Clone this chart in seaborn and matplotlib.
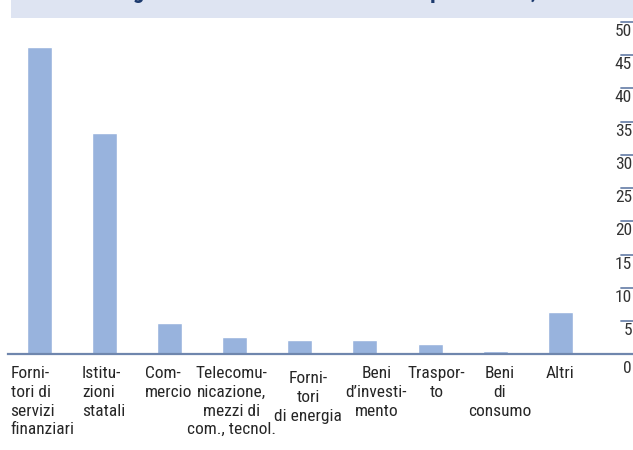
import matplotlib
matplotlib.use("Agg")
import matplotlib.pyplot as plt
from matplotlib import font_manager as fm
from matplotlib.patches import Rectangle
import seaborn as sns

# data
categories = ["Fornitori di servizi finanziari", "Istituzioni statali", "Commercio",
              "Telecomunicazione, mezzi di com., tecnol.", "Fornitori di energia",
              "Beni d'investimento", "Trasporto", "Beni di consumo", "Altri"]
values = [46.2, 33.3, 4.75, 2.65, 2.15, 2.15, 1.55, 0.5, 6.4]
tick_labels = ["Forni-\ntori di\nservizi\nfinanziari",
               "Istitu-\nzioni\nstatali",
               "Com-\nmercio",
               "Telecomu-\nnicazione,\nmezzi di\ncom., tecnol.",
               "Forni-\ntori\ndi energia",
               "Beni\nd\u2019investi-\nmento",
               "Traspor-\nto",
               "Beni\ndi\nconsumo",
               "Altri"]
y_ticks = [0, 5, 10, 15, 20, 25, 30, 35, 40, 45, 50]
title = "Struttura degli investimenti diretti all'estero per settore, in %"

# label placement tweaks: (dx px, dy px, multialignment)
label_pos = [(3, 0, "left"), (-1, 0, "left"), (-1, 0, "left"), (-3, 0, "center"),
             (8.5, 5, "center"), (11.5, 0, "center"), (6.5, 0, "center"),
             (4.5, 0, "center"), (0, 0, "center")]

bar_color = "#98b3dd"
axis_color = "#6f86ad"
navy = "#1d3a6e"

sns.set_theme(style="white")

# narrow font if there is one, else plain Roboto a bit smaller
try:
    fm.findfont(fm.FontProperties(family="Roboto Condensed"), fallback_to_default=False)
    plt.rcParams["font.family"] = ["Roboto Condensed", "DejaVu Sans"]
    fs = 12.5
except ValueError:
    plt.rcParams["font.family"] = ["Roboto", "DejaVu Sans"]
    fs = 11.5

W, H = 633, 450
fig = plt.figure(figsize=(W / 100, H / 100), dpi=100)
ax = fig.add_axes([8 / W, (H - 354.3) / H, 625 / W, 332.3 / H])

sns.barplot(x=categories, y=values, color=bar_color, width=0.384,
            saturation=1, ax=ax)

ax.set_xlim(-0.484, 9.117)
ax.set_ylim(0, 50)
ax.set_xticks([])
ax.set_yticks([])
ax.set_xlabel("")
ax.set_ylabel("")
for side in ["top", "left", "right"]:
    ax.spines[side].set_visible(False)
ax.spines["bottom"].set_color(axis_color)
ax.spines["bottom"].set_linewidth(1.6)

px = 0.72  # points per pixel at 100 dpi
for i, (lab, (dx, dy, ma)) in enumerate(zip(tick_labels, label_pos)):
    ax.annotate(lab, xy=(i, 0), xycoords="data",
                xytext=(dx * px, -(12 + dy) * px), textcoords="offset points",
                ha="center", va="top", multialignment=ma,
                fontsize=fs, color="#262626", linespacing=1.3,
                annotation_clip=False)

# right-hand scale: short lines with the number below each
ytrans = ax.get_yaxis_transform()
for v in y_ticks:
    if v > 0:
        ax.axhline(v, xmin=613 / 625, xmax=1, color=axis_color, lw=1.3,
                   clip_on=False)
    off = 7 if v == 0 else 2
    ax.annotate(str(v), xy=(1, v), xycoords=ytrans,
                xytext=(-1 * px, -off * px), textcoords="offset points",
                ha="right", va="top", fontsize=fs, color="#333333",
                annotation_clip=False)

# cropped title band at the top (only the bottoms of the letters show)
fig.add_artist(Rectangle((11 / W, (H - 18) / H), 1 - 11 / W, 18 / H,
                         transform=fig.transFigure, facecolor="#dee4f2",
                         edgecolor="none", zorder=0))
fig.text(23 / W, 1 + 2 / H, title, ha="left", va="baseline",
         fontsize=16.5, fontweight="bold", color=navy)

fig.savefig("out.png", dpi=100)
